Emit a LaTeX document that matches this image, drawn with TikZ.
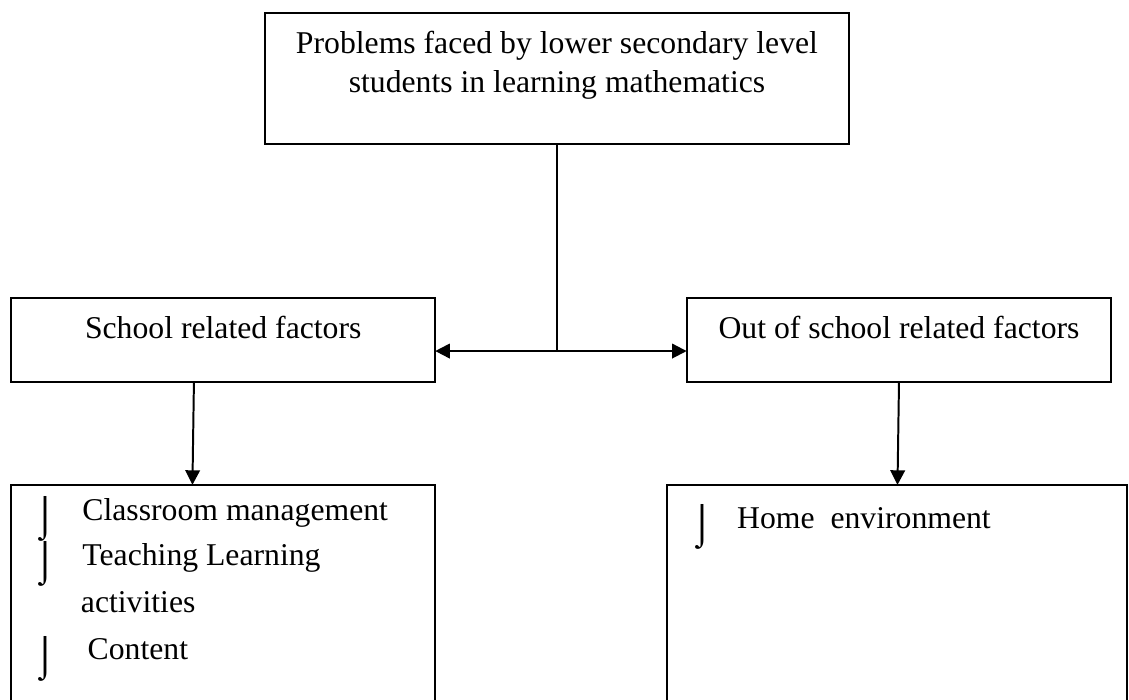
\documentclass[tikz,border=0pt]{standalone}
\usepackage{fontspec}
\setmainfont{Liberation Serif}
\usetikzlibrary{arrows.meta, positioning, calc}
\tikzset{
  framebox/.style={draw=black, line width=0.75pt, inner sep=0pt, outer sep=0pt},
  link/.style={line width=0.75pt, -{Triangle[length=5.5pt,width=5.5pt]}},
  twoway/.style={line width=0.75pt, {Triangle[length=5.5pt,width=5.5pt]}-{Triangle[length=5.5pt,width=5.5pt]}},
  boxtext/.style={anchor=base, inner sep=0pt, font=\fontsize{12}{14.7}\selectfont},
  itemtext/.style={anchor=base west, inner sep=0pt, font=\fontsize{12}{14.7}\selectfont},
  itembullet/.style={anchor=base west, inner sep=0pt, yshift=-0.12cm, font=\fontsize{15}{15}\selectfont}
}

\begin{document}
\begin{tikzpicture}
    \useasboundingbox (0,0) rectangle (15.02,-9.31);
    \clip (0,0) rectangle (15.02,-9.31);

    % Main problem - top box
    \node[framebox, minimum width=7.77cm, minimum height=1.75cm] (problem) at (7.41,-1.045) {};
    \node[boxtext] (problemA) at (7.41,-0.705) {Problems faced by lower secondary level};
    \node[boxtext] (problemB) at (7.41,-1.225) {students in learning mathematics};

    % School related factors
    \node[framebox, minimum width=5.64cm, minimum height=1.12cm] (school) at (2.97,-4.52) {};
    \node[boxtext] (schoolT) at (2.97,-4.50) {School related factors};

    % Out of school related factors
    \node[framebox, minimum width=5.65cm, minimum height=1.12cm] (outschool) at (11.96,-4.52) {};
    \node[boxtext] (outschoolT) at (11.96,-4.50) {Out of school related factors};

    % Split into both factors
    \coordinate (split) at (7.41,-4.67);
    \draw[line width=0.75pt] (problem.south) -- (split);
    \draw[twoway] (school.east |- split) -- (outschool.west |- split);

    % School factor list
    \node[framebox, minimum width=5.64cm, minimum height=3.4cm] (schoollist) at (2.97,-8.15) {};
    \node[itembullet] (bulA) at (0.44,-6.92) {⌡};
    \node[itemtext] (itemA) at (1.09,-6.92) {Classroom management};
    \node[itembullet] (bulB) at (0.44,-7.52) {⌡};
    \node[itemtext] (itemB) at (1.09,-7.52) {Teaching Learning};
    \node[itemtext] (itemBB) at (1.07,-8.15) {activities};
    \node[itembullet] (bulC) at (0.44,-8.78) {⌡};
    \node[itemtext] (itemC) at (1.16,-8.78) {Content};

    % Out of school factor list
    \node[framebox, minimum width=6.12cm, minimum height=3.4cm] (homelist) at (11.93,-8.15) {};
    \node[itembullet] (bulD) at (9.18,-7.03) {⌡};
    \node[itemtext] (itemD) at (9.80,-7.03) {Home\ \ environment};

    % Arrows down
    \draw[link] ([xshift=-0.39cm]school.south) -- ([xshift=-0.41cm]schoollist.north);
    \draw[link] (outschool.south) -- ([xshift=0.01cm]homelist.north);

\end{tikzpicture}
\end{document}
